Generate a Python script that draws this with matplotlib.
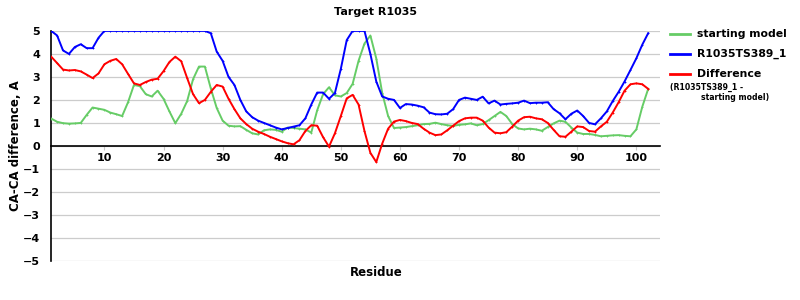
import matplotlib
matplotlib.use("Agg")
import matplotlib.pyplot as plt
from matplotlib.lines import Line2D

residues = list(range(1, 103))

starting_model = [1.19, 1.05, 0.99, 0.97, 0.98, 1.00, 1.35, 1.67, 1.62, 1.57,
                  1.45, 1.38, 1.30, 1.90, 2.65, 2.60, 2.25, 2.15, 2.40, 2.05,
                  1.50, 0.99, 1.40, 1.95, 2.90, 3.45, 3.45, 2.50, 1.65, 1.10,
                  0.88, 0.85, 0.86, 0.70, 0.55, 0.50, 0.68, 0.72, 0.70, 0.62,
                  0.80, 0.78, 0.75, 0.72, 0.58, 1.55, 2.25, 2.55, 2.20, 2.15,
                  2.30, 2.70, 3.70, 4.45, 4.80, 3.80, 2.30, 1.30, 0.78, 0.80,
                  0.82, 0.86, 0.90, 0.95, 0.96, 1.01, 0.95, 0.90, 0.87, 0.92,
                  0.94, 0.98, 0.90, 0.95, 1.12, 1.30, 1.48, 1.30, 0.95, 0.76,
                  0.72, 0.75, 0.72, 0.66, 0.82, 0.98, 1.10, 1.05, 0.80, 0.58,
                  0.52, 0.52, 0.48, 0.42, 0.44, 0.46, 0.47, 0.44, 0.42, 0.72,
                  1.70, 2.48]

model_389 = [5.00, 4.80, 4.15, 4.00, 4.30, 4.42, 4.25, 4.25, 4.70, 5.00,
             5.00, 5.00, 5.00, 5.00, 5.00, 5.00, 5.00, 5.00, 5.00, 5.00,
             5.00, 5.00, 5.00, 5.00, 5.00, 5.00, 5.00, 4.90, 4.10, 3.70,
             3.00, 2.65, 2.00, 1.50, 1.25, 1.10, 1.00, 0.90, 0.80, 0.72,
             0.78, 0.84, 0.90, 1.20, 1.80, 2.32, 2.32, 2.05, 2.30, 3.35,
             4.60, 5.00, 5.00, 5.00, 4.00, 2.80, 2.15, 2.05, 2.00, 1.65,
             1.82, 1.80, 1.75, 1.68, 1.45, 1.38, 1.37, 1.40, 1.60, 2.00,
             2.10, 2.05, 2.00, 2.14, 1.85, 1.97, 1.80, 1.83, 1.85, 1.88,
             1.97, 1.86, 1.88, 1.88, 1.90, 1.60, 1.42, 1.16, 1.40, 1.54,
             1.30, 1.00, 0.94, 1.20, 1.50, 1.95, 2.35, 2.80, 3.30, 3.81,
             4.40, 4.90]

difference = [3.88, 3.60, 3.32, 3.28, 3.30, 3.24, 3.10, 2.95, 3.15, 3.55,
              3.70, 3.78, 3.55, 3.13, 2.72, 2.65, 2.78, 2.88, 2.92, 3.25,
              3.65, 3.88, 3.68, 2.95, 2.25, 1.86, 2.00, 2.35, 2.65, 2.58,
              2.05, 1.60, 1.20, 0.95, 0.75, 0.62, 0.52, 0.40, 0.30, 0.20,
              0.12, 0.07, 0.25, 0.65, 0.90, 0.88, 0.38, -0.03, 0.55, 1.30,
              2.07, 2.22, 1.80, 0.65, -0.30, -0.70, 0.10, 0.75, 1.06, 1.13,
              1.08, 1.00, 0.95, 0.75, 0.58, 0.47, 0.50, 0.68, 0.88, 1.08,
              1.20, 1.23, 1.23, 1.10, 0.80, 0.58, 0.55, 0.60, 0.84, 1.10,
              1.25, 1.27, 1.20, 1.16, 1.00, 0.70, 0.42, 0.40, 0.62, 0.85,
              0.82, 0.65, 0.62, 0.85, 1.05, 1.45, 1.90, 2.40, 2.68, 2.72,
              2.68, 2.48]

x_ticks = [10, 20, 30, 40, 50, 60, 70, 80, 90, 100]
y_ticks = [-5, -4, -3, -2, -1, 0, 1, 2, 3, 4, 5]
series_labels = ["starting model", "R1035TS389_1", "Difference"]
note_lines = ["(R1035TS389_1 -", "starting model)"]

GREEN = "#66cc66"
BLUE = "#0000ff"
RED = "#ff0000"

plt.rcParams['font.family'] = ['DejaVu Sans']
fig = plt.figure(figsize=(8, 3), dpi=100)
ax = fig.add_axes([0.064, 0.13, 0.761, 0.767])

for yv in y_ticks:
    ax.axhline(yv, color="#cccccc", lw=0.9, zorder=0)

kw = dict(lw=1.4, marker='+', markersize=2, mew=0.6, clip_on=True, zorder=3)
ax.plot(residues, starting_model, color=GREEN, **kw)
ax.plot(residues, model_389, color=BLUE, **kw)
ax.plot(residues, difference, color=RED, **kw)

ax.set_xlim(1, 104)
ax.set_ylim(-5, 5)
ax.spines['top'].set_visible(False)
ax.spines['right'].set_visible(False)
ax.spines['bottom'].set_position(('data', 0))
ax.spines['bottom'].set_linewidth(1.2)
ax.spines['left'].set_linewidth(1.2)
ax.spines['bottom'].set_zorder(2)

ax.set_xticks(x_ticks)
ax.set_xticklabels([str(t) for t in x_ticks], fontweight='bold', fontsize=8)
ax.set_yticks(y_ticks)
ax.set_yticklabels([("\u2212" + str(-t)) if t < 0 else str(t) for t in y_ticks],
                   fontweight='bold', fontsize=8)
ax.tick_params(axis='x', direction='out', length=3, color='#c8c8c8', pad=2)
ax.tick_params(axis='y', length=0, pad=8)

fig.text(375 / 800, 1 - 12 / 300, "Target R1035", ha='center', va='center',
         fontweight='bold', fontsize=8)
fig.text(376 / 800, 0.09, "Residue", ha='center', va='center', fontweight='bold', fontsize=8.5)
fig.text(0.02, 0.513, "CA-CA difference, A", ha='center', va='center',
         rotation=90, fontweight='bold', fontsize=8.5)

# legend
leg_colors = [GREEN, BLUE, RED]
for i, (lab, col) in enumerate(zip(series_labels, leg_colors)):
    ypx = 34 + i * 20
    yf = 1 - ypx / 300
    fig.add_artist(Line2D([670 / 800, 690 / 800], [yf, yf], color=col, lw=2,
                          transform=fig.transFigure))
    fig.text(697 / 800, yf, lab, ha='left', va='center', fontweight='bold', fontsize=7.8)
fig.text(670 / 800, 1 - 87 / 300, note_lines[0], ha='left', va='center',
         fontweight='bold', fontsize=5.6)
fig.text(701 / 800, 1 - 98 / 300, note_lines[1], ha='left', va='center',
         fontweight='bold', fontsize=5.6)

fig.savefig("out.png", dpi=100)
